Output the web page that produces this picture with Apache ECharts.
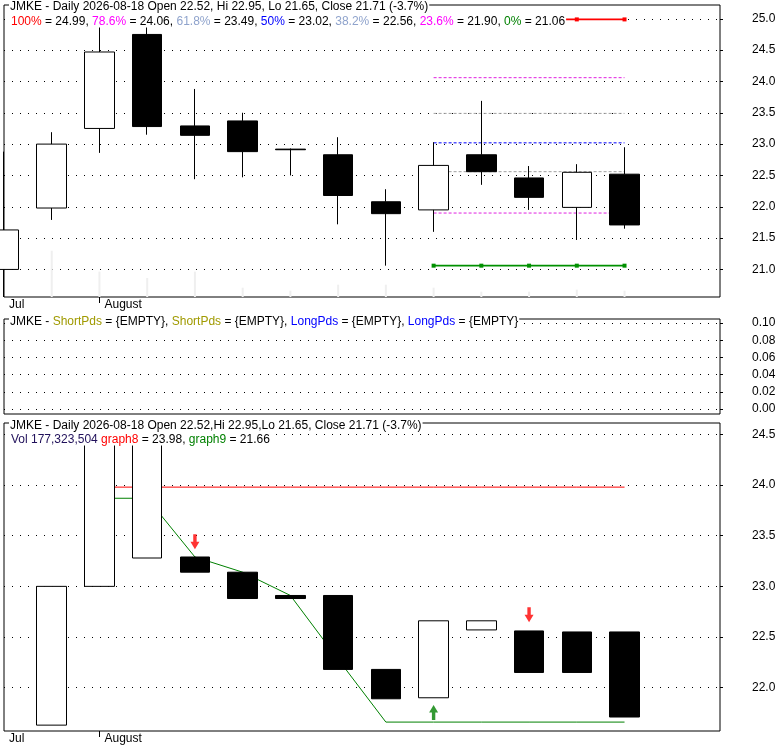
<!DOCTYPE html>
<html><head><meta charset="utf-8">
<script src="https://cdn.jsdelivr.net/npm/echarts@6/dist/echarts.min.js"></script>
<style>html,body{margin:0;padding:0;background:#fff}#c{width:780px;height:745px}</style>
</head><body><div id="c"></div>
<script>
// ---------- data ----------
const categories = ['2026-07-30','2026-07-31','2026-08-03','2026-08-04','2026-08-05','2026-08-06','2026-08-07','2026-08-10','2026-08-11','2026-08-12','2026-08-13','2026-08-14','2026-08-17','2026-08-18',' ','  '];
const xTickLabels = ['Jul','','August','','','','','','','','','','','','',''];
const opens  = [21.00, 21.98, 23.25, 24.75, 23.29, 23.37, 22.92, 22.83, 22.08, 21.95, 22.83, 22.46, 21.99, 22.52];
const highs  = [22.88, 23.19, 24.90, 24.99, 23.88, 23.50, 22.93, 23.11, 22.28, 23.03, 23.69, 22.65, 22.68, 22.95];
const lows   = [20.56, 21.79, 22.86, 23.15, 22.44, 22.47, 22.50, 21.72, 21.06, 21.60, 22.35, 21.95, 21.47, 21.65];
const closes = [21.63, 23.00, 24.47, 23.28, 23.14, 22.88, 22.91, 22.18, 21.89, 22.66, 22.56, 22.15, 22.55, 21.71];
const volumesM = [null, 1300, 712, 535, 712, 262, 177, 346, 346, 262, 149, 149, 205, 177.3];

const fibLabels = ['100%','78.6%','61.8%','50%','38.2%','23.6%','0%'];
const fibValues = [24.99, 24.06, 23.49, 23.02, 22.56, 21.90, 21.06];
const fibStartIdx = 9, fibEndIdx = 13;

const shortPdsLabels = ['ShortPds','ShortPds','LongPds','LongPds'];

// lower panel bodies (from previous close to close)
const bodyLow  = [null, 21.63, 23.00, 23.28, 23.14, 22.88, 22.88, 22.18, 21.89, 21.90, 22.57, 22.15, 22.15, 21.71];
const bodyHigh = [null, 23.00, 24.47, 24.47, 23.29, 23.14, 22.91, 22.91, 22.18, 22.66, 22.66, 22.56, 22.55, 22.55];
const bodyHollow = [false, true, true, true, false, false, false, false, false, true, true, false, false, false];
const graph8 = [null, null, 23.98, 23.98, 23.98, 23.98, 23.98, 23.98, 23.98, 23.98, 23.98, 23.98, 23.98, 23.98];
const graph9 = [null, null, 23.87, 23.87, 23.29, 23.14, 22.91, 22.28, 21.66, 21.66, 21.66, 21.66, 21.66, 21.66];
const sellSignals = [[4, 23.44], [11, 22.72]];
const buySignals = [[9, 21.755]];

const topTicks = [21.0, 21.5, 22.0, 22.5, 23.0, 23.5, 24.0, 24.5, 25.0];
const midTicks = [0, 0.02, 0.04, 0.06, 0.08, 0.10];
const botTicks = [22.0, 22.5, 23.0, 23.5, 24.0, 24.5];

const ticker = 'JMKE', lastDate = '2026-08-18';
const lastVolume = '177,323,504';
const chgPct = '-3.7%';

// ---------- chart ----------
const FONT = '"Liberation Sans", Arial, sans-serif';
const n = opens.length;
const last = n - 1;
const chart = echarts.init(document.getElementById('c'));

function xAxis(g, showLabels) {
  return {
    type: 'category', gridIndex: g, data: categories, boundaryGap: false,
    axisLine: { show: false },
    axisTick: { show: showLabels, length: 6, interval: (i) => i > 0 && xTickLabels[i] !== '', lineStyle: { color: '#000' } },
    axisLabel: { show: showLabels, interval: 0, formatter: (v, i) => xTickLabels[i] || '', align: 'left',
      padding: [0, 0, 0, 5], margin: 2, color: '#000', fontSize: 12, fontFamily: FONT },
    splitLine: { show: false }
  };
}
function yAxis(g, min, max, ticks, dec) {
  return {
    type: 'value', gridIndex: g, position: 'right', min: min, max: max,
    axisLine: { show: false },
    axisTick: { show: true, length: 3, customValues: ticks, lineStyle: { color: '#000' } },
    axisLabel: { customValues: ticks, formatter: (v) => v.toFixed(dec), margin: 32, align: 'left',
      color: '#000', fontSize: 12, fontFamily: FONT },
    splitLine: { show: true, lineStyle: { color: '#000', type: [1, 7], width: 1 } }
  };
}

const fibLineColors = ['#ff0000', '#e020e0', '#a0a0a0', '#0000ff', '#a0a0a0', '#e020e0', '#009000'];
const fibTextColors = ['#ff0000', '#ff00ff', '#8fa3cc', '#0000ff', '#8fa3cc', '#ff00ff', '#008000'];
const fibSeries = fibValues.map((v, k) => {
  const solid = (k === 0 || k === fibValues.length - 1);
  return {
    type: 'line', xAxisIndex: 0, yAxisIndex: 0, z: 2, silent: true,
    data: categories.map((_, i) => (i >= fibStartIdx && i <= fibEndIdx) ? v : null),
    symbol: solid ? 'rect' : 'none', symbolSize: 4, showSymbol: solid,
    itemStyle: { color: fibLineColors[k] },
    lineStyle: { color: fibLineColors[k], width: solid ? 1.6 : 1, type: solid ? 'solid' : [3, 2] }
  };
});

const richTop = { k: { fill: '#000' } };
fibTextColors.forEach((c, k) => { richTop['f' + k] = { fill: c }; });
const fibText = fibLabels.map((l, k) => '{f' + k + '|' + l + '} = ' + fibValues[k].toFixed(2)).join(', ');

const headline1 = ticker + ' - Daily ' + lastDate + ' Open ' + opens[last].toFixed(2) + ', Hi ' + highs[last].toFixed(2) +
  ', Lo ' + lows[last].toFixed(2) + ', Close ' + closes[last].toFixed(2) + ' (' + chgPct + ')';
const headline3 = ticker + ' - Daily ' + lastDate + ' Open ' + opens[last].toFixed(2) + ',Hi ' + highs[last].toFixed(2) +
  ',Lo ' + lows[last].toFixed(2) + ', Close ' + closes[last].toFixed(2) + ' (' + chgPct + ')';
const midText = ticker + ' - ' + shortPdsLabels.map(l => '{' + (l === 'ShortPds' ? 'o' : 'b') + '|' + l + '} = {EMPTY}').join(', ');
const volText = '{v|Vol ' + lastVolume + '} {r|graph8} = ' + graph8[last].toFixed(2) + ', {g|graph9} = ' + graph9[last].toFixed(2);

function txt(x, y, text, rich) {
  return { type: 'text', x: x, y: y, z: 100, silent: true,
    style: { text: text, fill: '#000', font: '12px ' + FONT, verticalAlign: 'middle',
      backgroundColor: '#fff', padding: [1, 1, 0, 1], rich: rich || {} } };
}

const option = {
  animation: false,
  backgroundColor: '#fff',
  grid: [
    { left: 4, right: 60, top: 5, height: 292, show: true, borderColor: '#000', borderWidth: 1, backgroundColor: 'transparent' },
    { left: 4, right: 60, top: 319, height: 95, show: true, borderColor: '#000', borderWidth: 1, backgroundColor: 'transparent' },
    { left: 4, right: 60, top: 423, height: 308, show: true, borderColor: '#000', borderWidth: 1, backgroundColor: 'transparent' }
  ],
  xAxis: [xAxis(0, true), xAxis(1, false), xAxis(2, true)],
  yAxis: [
    yAxis(0, 20.56, 25.22, topTicks, 1),
    { type: 'value', gridIndex: 0, min: 0, max: 8200, show: false, splitLine: { show: false } },
    yAxis(1, -0.0058, 0.1047, midTicks, 2),
    yAxis(2, 21.572, 24.613, botTicks, 1)
  ],
  graphic: [
    txt(9, 6, headline1),
    txt(10, 21, fibText, richTop),
    txt(9, 321, midText, { o: { fill: '#a09a00' }, b: { fill: '#0000ff' } }),
    txt(9, 425, headline3),
    txt(10, 439, volText, { v: { fill: '#20105a' }, r: { fill: '#ff0000' }, g: { fill: '#008000' } })
  ],
  series: [
    { type: 'bar', xAxisIndex: 0, yAxisIndex: 1, z: 1, silent: true, barWidth: 2,
      itemStyle: { color: '#efefef' }, data: volumesM },
    ...fibSeries,
    { type: 'candlestick', xAxisIndex: 0, yAxisIndex: 0, z: 3, barWidth: 30, clip: false, silent: true,
      itemStyle: { color: '#fff', color0: '#000', borderColor: '#000', borderColor0: '#000', borderWidth: 1 },
      data: opens.map((o, i) => [o, closes[i], lows[i], highs[i]]) },
    { type: 'line', xAxisIndex: 1, yAxisIndex: 2, data: [], silent: true },
    { type: 'line', xAxisIndex: 2, yAxisIndex: 3, z: 2, silent: true, symbol: 'none',
      lineStyle: { color: '#ff0000', width: 1 }, data: graph8 },
    { type: 'line', xAxisIndex: 2, yAxisIndex: 3, z: 2, silent: true, symbol: 'none',
      lineStyle: { color: '#008000', width: 1 }, data: graph9 },
    { type: 'candlestick', xAxisIndex: 2, yAxisIndex: 3, z: 3, barWidth: 30, silent: true,
      data: bodyLow.map((lo, i) => lo == null ? '-' : {
        value: [lo, bodyHigh[i], lo, bodyHigh[i]],
        itemStyle: { color: bodyHollow[i] ? '#fff' : '#000', color0: bodyHollow[i] ? '#fff' : '#000',
          borderColor: '#000', borderColor0: '#000', borderWidth: 1 }
      }) },
    { type: 'scatter', xAxisIndex: 2, yAxisIndex: 3, z: 4, silent: true,
      symbol: 'path://M2.8,0L6.2,0L6.2,7L9,7L4.5,14L0,7L2.8,7Z', symbolSize: [9, 15],
      itemStyle: { color: '#ff0000' }, data: sellSignals },
    { type: 'scatter', xAxisIndex: 2, yAxisIndex: 3, z: 4, silent: true,
      symbol: 'path://M4.5,0L9,7L6.2,7L6.2,14L2.8,14L2.8,7L0,7Z', symbolSize: [9, 15],
      itemStyle: { color: '#008000' }, data: buySignals }
  ]
};
chart.setOption(option);
</script></body></html>
